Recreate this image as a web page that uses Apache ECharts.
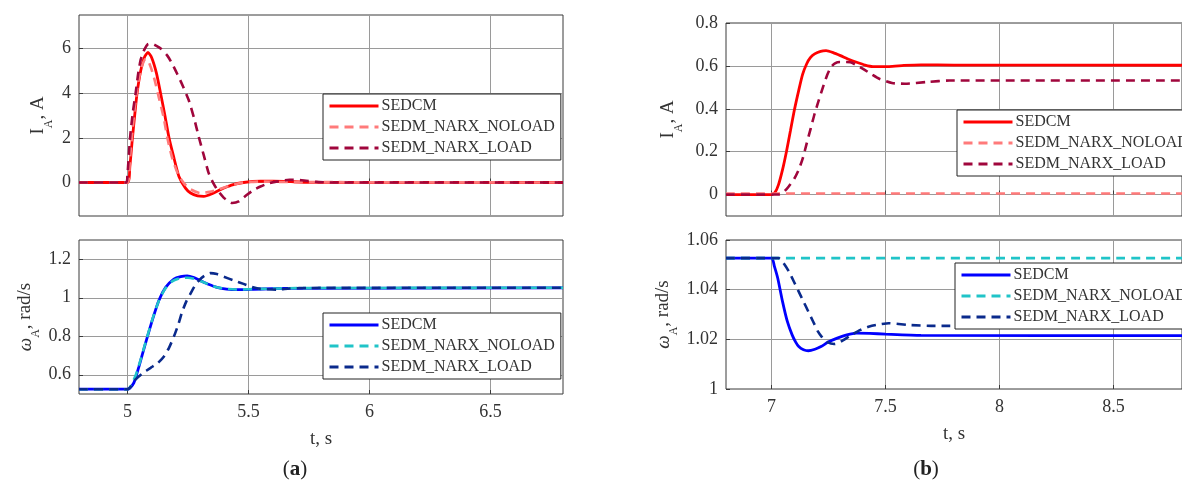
<!DOCTYPE html>
<html>
<head>
<meta charset="utf-8">
<script src="https://cdn.jsdelivr.net/npm/echarts@6/dist/echarts.min.js"></script>
<style>
  html, body { margin: 0; padding: 0; background: #fff; }
  #main { width: 1182px; height: 484px; }
</style>
</head>
<body>
<div id="main"></div>
<script>
// series names shown in every legend
const NAMES = ['SEDCM', 'SEDM_NARX_NOLOAD', 'SEDM_NARX_LOAD'];

// (a) current, t in s, I in A
const aCurSedcm = [[4.8,0],[5.0,0],[5.01,0.7],[5.02,1.9],[5.03,3.0],[5.04,4.0],[5.055,5.0],[5.07,5.6],[5.085,5.82],[5.10,5.6],[5.12,4.9],[5.137,4.0],[5.155,3.0],[5.172,2.0],[5.19,1.2],[5.213,0.27],[5.24,-0.25],[5.261,-0.47],[5.29,-0.6],[5.316,-0.62],[5.35,-0.5],[5.384,-0.32],[5.43,-0.12],[5.48,0],[5.55,0.06],[5.65,0.05],[5.75,0.01],[6.8,0]];
const aCurNoload = [[4.8,0],[5.0,0],[5.01,1.0],[5.02,2.2],[5.03,3.3],[5.045,4.5],[5.06,5.2],[5.075,5.53],[5.09,5.35],[5.11,4.7],[5.13,3.8],[5.15,2.9],[5.165,2.0],[5.185,1.1],[5.21,0.35],[5.235,-0.05],[5.26,-0.3],[5.30,-0.47],[5.34,-0.42],[5.38,-0.3],[5.43,-0.12],[5.48,0],[5.55,0.04],[5.65,0.02],[6.8,0]];
const aCurLoad = [[4.8,0],[4.995,0],[5.0,0.3],[5.011,2.0],[5.022,3.1],[5.034,4.0],[5.045,4.9],[5.055,5.5],[5.07,5.95],[5.085,6.2],[5.1,6.22],[5.12,6.12],[5.14,5.98],[5.165,5.68],[5.185,5.32],[5.206,4.86],[5.23,4.3],[5.254,3.67],[5.275,2.9],[5.295,2.04],[5.316,1.2],[5.336,0.42],[5.355,-0.03],[5.371,-0.32],[5.40,-0.7],[5.433,-0.92],[5.46,-0.85],[5.494,-0.55],[5.52,-0.35],[5.55,-0.18],[5.585,-0.03],[5.62,0.05],[5.67,0.12],[5.72,0.1],[5.78,0.03],[5.85,0],[6.8,0]];

// (a) speed, rad/s
const aSpdSedcm = [[4.8,0.525],[5.0,0.525],[5.01,0.53],[5.027,0.559],[5.048,0.644],[5.075,0.764],[5.103,0.884],[5.13,0.986],[5.158,1.054],[5.192,1.097],[5.22,1.11],[5.247,1.114],[5.275,1.105],[5.302,1.089],[5.335,1.07],[5.37,1.054],[5.41,1.045],[5.453,1.042],[5.52,1.044],[5.6,1.047],[5.7,1.049],[6.8,1.051]];
const aSpdNoload = [[4.8,0.525],[5.0,0.525],[5.015,0.545],[5.035,0.6],[5.055,0.68],[5.08,0.79],[5.105,0.895],[5.13,0.985],[5.155,1.045],[5.185,1.085],[5.22,1.102],[5.25,1.104],[5.28,1.097],[5.31,1.083],[5.35,1.062],[5.40,1.047],[5.45,1.043],[5.55,1.046],[5.7,1.05],[6.8,1.052]];
const aSpdLoad = [[4.8,0.525],[5.0,0.525],[5.015,0.54],[5.034,0.576],[5.06,0.605],[5.096,0.636],[5.125,0.66],[5.151,0.695],[5.172,0.74],[5.192,0.798],[5.21,0.86],[5.226,0.926],[5.243,0.98],[5.26,1.02],[5.278,1.06],[5.295,1.089],[5.318,1.114],[5.343,1.128],[5.37,1.123],[5.398,1.109],[5.44,1.09],[5.48,1.072],[5.515,1.056],[5.55,1.046],[5.618,1.042],[5.67,1.048],[5.75,1.051],[6.8,1.052]];

// (b) current
const bCurSedcm = [[6.8,0],[7.0,0],[7.015,0.01],[7.03,0.045],[7.048,0.116],[7.065,0.2],[7.083,0.30],[7.10,0.395],[7.119,0.486],[7.136,0.56],[7.154,0.61],[7.17,0.638],[7.189,0.656],[7.215,0.668],[7.239,0.671],[7.27,0.662],[7.302,0.648],[7.34,0.63],[7.373,0.617],[7.41,0.604],[7.444,0.597],[7.515,0.597],[7.58,0.602],[7.655,0.605],[7.8,0.604],[8.8,0.603]];
const bCurNoload = [[6.8,0.005],[7.5,0.005],[8.8,0.005]];
const bCurLoad = [[6.8,0],[7.03,0],[7.05,0.008],[7.076,0.039],[7.10,0.075],[7.119,0.116],[7.137,0.17],[7.154,0.239],[7.172,0.31],[7.189,0.378],[7.207,0.44],[7.225,0.50],[7.243,0.555],[7.26,0.594],[7.278,0.612],[7.3,0.618],[7.345,0.617],[7.37,0.605],[7.401,0.586],[7.44,0.56],[7.472,0.54],[7.528,0.52],[7.585,0.517],[7.683,0.525],[7.78,0.532],[8.8,0.532]];

// (b) speed
const bSpdSedcm = [[6.8,1.0527],[7.0,1.0527],[7.012,1.0495],[7.027,1.0446],[7.048,1.0352],[7.069,1.0272],[7.09,1.0218],[7.105,1.019],[7.119,1.0171],[7.14,1.0158],[7.161,1.0154],[7.19,1.016],[7.217,1.0171],[7.25,1.019],[7.288,1.0205],[7.33,1.0218],[7.373,1.0225],[7.43,1.0224],[7.5,1.0221],[7.655,1.0216],[8.8,1.0215]];
const bSpdNoload = [[6.8,1.0527],[7.5,1.0527],[8.8,1.0527]];
const bSpdLoad = [[6.8,1.0527],[7.03,1.0527],[7.05,1.051],[7.076,1.0473],[7.098,1.0432],[7.119,1.0392],[7.14,1.0352],[7.161,1.0312],[7.182,1.0272],[7.203,1.0232],[7.22,1.021],[7.239,1.0191],[7.274,1.0181],[7.295,1.0186],[7.317,1.0198],[7.35,1.0218],[7.39,1.0238],[7.429,1.0252],[7.47,1.026],[7.514,1.0265],[7.6,1.0258],[7.712,1.0254],[8.8,1.0254]];

// tick values
const aTimeTicks = [5, 5.5, 6, 6.5];
const bTimeTicks = [7, 7.5, 8, 8.5];
const aCurTicks = [0, 2, 4, 6];
const aSpdTicks = [0.6, 0.8, 1, 1.2];
const bCurTicks = [0, 0.2, 0.4, 0.6, 0.8];
const bSpdTicks = [1, 1.02, 1.04, 1.06];

const FONT = '"Liberation Serif", "DejaVu Serif", serif';
const RED = ['#ff0000', '#ff7a7a', '#a0063c'];
const BLUE = ['#0000ff', '#20c4c8', '#0a2a8c'];

let chart = echarts.init(document.getElementById('main'));

const grids = [
  { left: 79, top: 15, width: 484, height: 201 },
  { left: 79, top: 240, width: 484, height: 154 },
  { left: 726, top: 23, width: 470, height: 193 },
  { left: 726, top: 240, width: 470, height: 149 }
].map(g => Object.assign({ show: true, borderColor: '#3a3a3a', borderWidth: 1, backgroundColor: '#fff' }, g));

function xAxis(idx, min, max, ticks, showLabels) {
  return {
    type: 'value', gridIndex: idx, min: min, max: max,
    axisLine: { show: false },
    axisTick: { show: true, inside: true, length: 4, customValues: ticks, lineStyle: { color: '#3a3a3a' } },
    axisLabel: { show: showLabels, customValues: ticks, margin: 9, fontFamily: FONT, fontSize: 18, color: '#333' },
    splitLine: { show: true, lineStyle: { color: '#9a9a9a', width: 1 } },
    name: showLabels ? 't, s' : '',
    nameLocation: 'middle', nameGap: 36,
    nameTextStyle: { fontFamily: FONT, fontSize: 19, color: '#333' }
  };
}

function yAxis(idx, min, max, ticks, name, gap) {
  return {
    type: 'value', gridIndex: idx, min: min, max: max,
    axisLine: { show: false },
    axisTick: { show: true, inside: true, length: 4, customValues: ticks, lineStyle: { color: '#3a3a3a' } },
    axisLabel: { customValues: ticks, margin: 8, fontFamily: FONT, fontSize: 18, color: '#333' },
    splitLine: { show: true, lineStyle: { color: '#9a9a9a', width: 1 } },
    name: name, nameLocation: 'middle', nameGap: gap,
    nameTextStyle: {
      fontFamily: FONT, fontSize: 18, color: '#333',
      rich: {
        m: { fontFamily: FONT, fontSize: 19, color: '#333', verticalAlign: 'bottom' },
        w: { fontFamily: FONT, fontSize: 19, color: '#333', fontStyle: 'italic', verticalAlign: 'bottom' },
        s: { fontFamily: FONT, fontSize: 12, color: '#333', verticalAlign: 'bottom', padding: [0, 0, -7, 0] }
      }
    }
  };
}

function line(name, data, idx, color, dashed) {
  return {
    type: 'line', name: name, data: data,
    xAxisIndex: idx, yAxisIndex: idx,
    symbol: 'none', smooth: 0.2, animation: false,
    lineStyle: { color: color, width: dashed ? 2.6 : 2.8, type: dashed ? [9, 6] : 'solid' },
    itemStyle: { color: color }
  };
}

function legend(prefix, left, top) {
  return {
    orient: 'vertical', left: left, top: top,
    data: NAMES.map(n => prefix + '|' + n),
    formatter: n => n.split('|')[1],
    backgroundColor: '#fff', borderColor: '#222', borderWidth: 1, borderRadius: 0,
    padding: [4, 6, 4, 5], itemGap: 5, itemWidth: 49, itemHeight: 14,
    selectedMode: false,
    itemStyle: { opacity: 0 },
    lineStyle: { width: 3 },
    textStyle: { fontFamily: FONT, fontSize: 16, color: '#333', padding: [0, 0, 0, -2] }
  };
}

let option = {
  backgroundColor: '#fff',
  animation: false,
  grid: grids,
  xAxis: [
    xAxis(0, 4.8, 6.8, aTimeTicks, false),
    xAxis(1, 4.8, 6.8, aTimeTicks, true),
    xAxis(2, 6.8, 8.8, bTimeTicks, false),
    xAxis(3, 6.8, 8.8, bTimeTicks, true)
  ],
  yAxis: [
    yAxis(0, -1.5, 7.5, aCurTicks, '{m|I}{s|A}{m|, A}', 31),
    yAxis(1, 0.5, 1.3, aSpdTicks, '{w|ω}{s|A}{m|, rad/s}', 44),
    yAxis(2, -0.1, 0.8, bCurTicks, '{m|I}{s|A}{m|, A}', 48),
    yAxis(3, 1, 1.06, bSpdTicks, '{w|ω}{s|A}{m|, rad/s}', 53)
  ],
  legend: [
    legend('aI', 323, 94),
    legend('aW', 323, 313),
    legend('bI', 957, 110),
    legend('bW', 955, 263)
  ],
  title: [
    { text: '({b|a})', left: 290, top: 454, textAlign: 'center',
      textStyle: { fontFamily: FONT, fontSize: 21, fontWeight: 'normal', color: '#222', rich: { b: { fontFamily: FONT, fontSize: 21, fontWeight: 'bold', color: '#222' } } } },
    { text: '({b|b})', left: 921, top: 454, textAlign: 'center',
      textStyle: { fontFamily: FONT, fontSize: 21, fontWeight: 'normal', color: '#222', rich: { b: { fontFamily: FONT, fontSize: 21, fontWeight: 'bold', color: '#222' } } } }
  ],
  series: [
    line('aI|' + NAMES[0], aCurSedcm, 0, RED[0], false),
    line('aI|' + NAMES[1], aCurNoload, 0, RED[1], true),
    line('aI|' + NAMES[2], aCurLoad, 0, RED[2], true),
    line('aW|' + NAMES[0], aSpdSedcm, 1, BLUE[0], false),
    line('aW|' + NAMES[1], aSpdNoload, 1, BLUE[1], true),
    line('aW|' + NAMES[2], aSpdLoad, 1, BLUE[2], true),
    line('bI|' + NAMES[0], bCurSedcm, 2, RED[0], false),
    line('bI|' + NAMES[1], bCurNoload, 2, RED[1], true),
    line('bI|' + NAMES[2], bCurLoad, 2, RED[2], true),
    line('bW|' + NAMES[0], bSpdSedcm, 3, BLUE[0], false),
    line('bW|' + NAMES[1], bSpdNoload, 3, BLUE[1], true),
    line('bW|' + NAMES[2], bSpdLoad, 3, BLUE[2], true)
  ]
};

chart.setOption(option);
window.addEventListener('resize', () => { chart.resize(); });
</script>
</body>
</html>
